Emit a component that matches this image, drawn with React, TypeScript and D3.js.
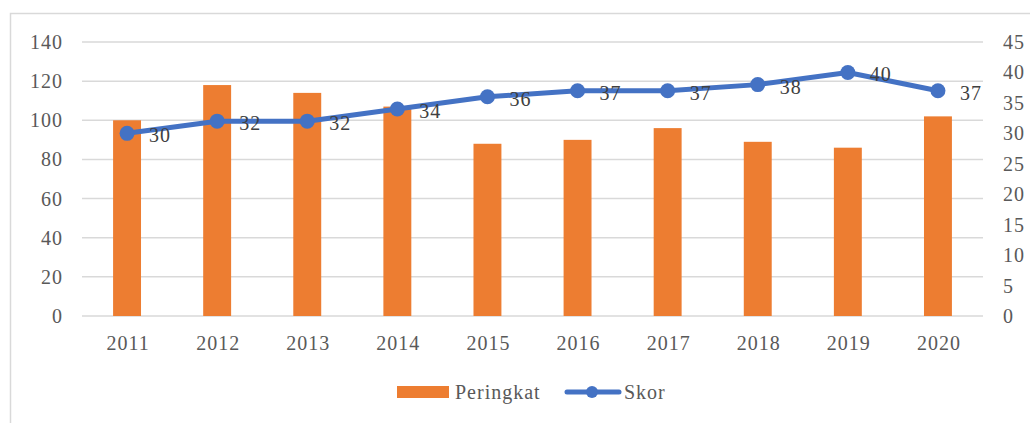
import { useEffect, useRef } from "react";
import * as d3 from "d3";

const years = ["2011", "2012", "2013", "2014", "2015", "2016", "2017", "2018", "2019", "2020"];
const peringkat = [100, 118, 114, 107, 88, 90, 96, 89, 86, 102];
const skor = [30, 32, 32, 34, 36, 37, 37, 38, 40, 37];
const leftTicks = [0, 20, 40, 60, 80, 100, 120, 140];
const rightTicks = [0, 5, 10, 15, 20, 25, 30, 35, 40, 45];

export default function App() {
    const ref = useRef<SVGSVGElement>(null);

    useEffect(() => {
        const svg = d3.select(ref.current);
        svg.selectAll("*").remove();

        const font = "'Liberation Serif', 'DejaVu Serif', serif";
        const grey = "#595959";
        const left = 82, right = 983, top = 42, bottom = 316;

        // outer border of the chart area
        svg.append("rect")
            .attr("x", 10.5).attr("y", 13.5)
            .attr("width", 1030).attr("height", 420)
            .attr("fill", "none").attr("stroke", "#d9d9d9").attr("stroke-width", 1.5);

        const x = d3.scaleBand().domain(years).range([left, right]).paddingInner(0.69).paddingOuter(0.345);
        const yL = d3.scaleLinear().domain([0, 140]).range([bottom, top]);
        const yR = d3.scaleLinear().domain([0, 45]).range([bottom, top]);
        const cx = (d: string) => (x(d) as number) + x.bandwidth() / 2;

        const txt = (sel: any) => sel
            .attr("font-family", font).attr("font-size", 20)
            .attr("letter-spacing", 1).attr("fill", grey);

        // gridlines
        svg.append("g").selectAll("line").data(leftTicks).enter().append("line")
            .attr("x1", left).attr("x2", right)
            .attr("y1", d => yL(d)).attr("y2", d => yL(d))
            .attr("stroke", "#d9d9d9").attr("stroke-width", 1.5);

        // left axis labels
        svg.append("g").selectAll("text").data(leftTicks).enter().append("text")
            .attr("x", 63).attr("y", d => yL(d)).attr("dy", "0.35em")
            .attr("text-anchor", "end").call(txt)
            .text(d => d);

        // right axis labels
        svg.append("g").selectAll("text").data(rightTicks).enter().append("text")
            .attr("x", 1003).attr("y", d => yR(d)).attr("dy", "0.35em")
            .attr("text-anchor", "start").call(txt)
            .text(d => d);

        // x labels
        svg.append("g").selectAll("text").data(years).enter().append("text")
            .attr("x", d => cx(d) + 1).attr("y", 350)
            .attr("text-anchor", "middle").call(txt)
            .text(d => d);

        // bars
        svg.append("g").selectAll("rect").data(years).enter().append("rect")
            .attr("x", d => x(d) as number).attr("width", x.bandwidth())
            .attr("y", (d, i) => yL(peringkat[i]))
            .attr("height", (d, i) => yL(0) - yL(peringkat[i]))
            .attr("fill", "#ed7d31");

        // line
        const line = d3.line<number>()
            .x((d, i) => cx(years[i]))
            .y(d => yR(d));
        svg.append("path").datum(skor)
            .attr("fill", "none").attr("stroke", "#4472c4").attr("stroke-width", 5)
            .attr("stroke-linejoin", "round").attr("d", line);

        svg.append("g").selectAll("circle").data(skor).enter().append("circle")
            .attr("cx", (d, i) => cx(years[i])).attr("cy", d => yR(d))
            .attr("r", 7.5).attr("fill", "#4472c4");

        // data labels
        svg.append("g").selectAll("text").data(skor).enter().append("text")
            .attr("x", (d, i) => cx(years[i]) + 22).attr("y", d => yR(d) + 2).attr("dy", "0.35em")
            .call(txt).attr("fill", "#404040")
            .text(d => d);

        // legend
        const lg = svg.append("g");
        lg.append("rect").attr("x", 397).attr("y", 386).attr("width", 52).attr("height", 12).attr("fill", "#ed7d31");
        lg.append("text").attr("x", 455).attr("y", 392).attr("dy", "0.35em")
            .call(txt).text("Peringkat");
        lg.append("line").attr("x1", 567).attr("x2", 619).attr("y1", 392).attr("y2", 392)
            .attr("stroke", "#4472c4").attr("stroke-width", 5).attr("stroke-linecap", "round");
        lg.append("circle").attr("cx", 592).attr("cy", 392).attr("r", 6).attr("fill", "#4472c4");
        lg.append("text").attr("x", 624).attr("y", 392).attr("dy", "0.35em")
            .call(txt).text("Skor");
    }, []);

    return (
        <svg ref={ref} width={1030} height={423}
            style={{ position: "absolute", left: 0, top: 0, background: "#fff" }}></svg>
    );
}
